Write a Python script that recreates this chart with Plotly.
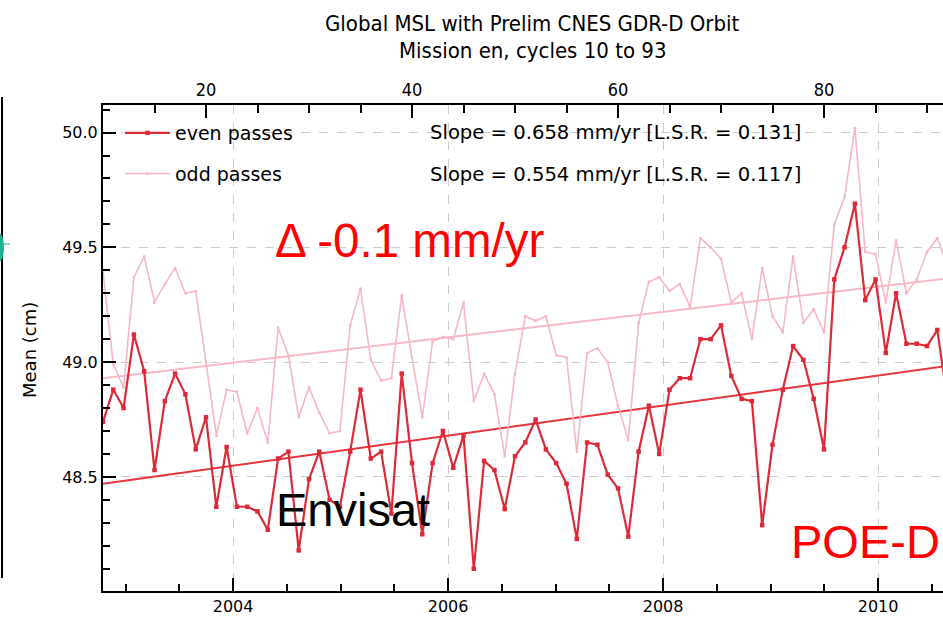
import plotly.graph_objects as go

# ---------------- data ----------------
cycles = list(range(10, 94))

even_passes = [48.74, 48.88, 48.80, 49.12, 48.96, 48.53, 48.83, 48.95, 48.86, 48.62,
               48.76, 48.37, 48.63, 48.37, 48.37, 48.35, 48.27, 48.58, 48.61, 48.18,
               48.49, 48.61, 48.40, 48.37, 48.61, 48.88, 48.58, 48.61, 48.34, 48.95,
               48.56, 48.25, 48.56, 48.70, 48.54, 48.68, 48.10, 48.57, 48.53, 48.36,
               48.59, 48.65, 48.75, 48.62, 48.56, 48.47, 48.23, 48.65, 48.64, 48.51,
               48.45, 48.24, 48.61, 48.81, 48.60, 48.88, 48.93, 48.93, 49.10, 49.10,
               49.16, 48.94, 48.84, 48.83, 48.29, 48.64, 48.88, 49.07, 49.01, 48.84,
               48.62, 49.36, 49.50, 49.69, 49.27, 49.36, 49.04, 49.30, 49.08, 49.08,
               49.07, 49.14, 48.83, 48.95]

odd_passes = [49.39, 48.99, 48.89, 49.37, 49.46, 49.26, 49.34, 49.41, 49.30, 49.31,
              49.00, 48.68, 48.88, 48.87, 48.69, 48.80, 48.65, 49.15, 49.03, 48.76,
              48.89, 48.78, 48.69, 48.70, 49.16, 49.32, 49.01, 48.92, 48.93, 49.29,
              49.02, 48.76, 49.09, 49.11, 49.10, 49.26, 48.83, 48.95, 48.86, 48.59,
              48.95, 49.20, 49.18, 49.20, 49.03, 49.02, 48.61, 49.04, 49.06, 49.00,
              48.81, 48.66, 49.17, 49.35, 49.37, 49.31, 49.34, 49.24, 49.54, 49.50,
              49.45, 49.26, 49.30, 49.10, 49.41, 49.20, 49.13, 49.46, 49.17, 49.23,
              49.13, 49.60, 49.72, 50.02, 49.48, 49.47, 49.26, 49.53, 49.30, 49.36,
              49.48, 49.54, 49.42, 49.35]

trend_cycles = [10, 93]
even_trend = [48.47, 48.99]
odd_trend = [48.93, 49.37]

year_ticks = [2004, 2006, 2008, 2010]
cycle_ticks = [20, 40, 60, 80]

even_label = "even passes"
odd_label = "odd passes"
even_slope = "Slope = 0.658 mm/yr [L.S.R. = 0.131]"
odd_slope = "Slope = 0.554 mm/yr [L.S.R. = 0.117]"

# ---------------- layout helpers (pixel geometry) ----------------
W, H = 943, 619
L, R, T, B = 103, 943, 105, 591
PW, PH = R - L, B - T


def px(x):
    return (x - L) / PW


def py(y):
    return (B - y) / PH


EVEN_C = "#dc2a38"
EVEN_T = "#e8343e"
ODD_C = "#f6b7c4"
ODD_T = "#f7b9c6"

fig = go.Figure()

# invisible helper so that the calendar (bottom) axis is drawn
fig.add_trace(go.Scatter(x=year_ticks, y=[None] * len(year_ticks), xaxis="x",
                         yaxis="y", mode="lines", showlegend=False,
                         hoverinfo="skip"))

fig.add_trace(go.Scatter(x=trend_cycles, y=even_trend, xaxis="x2", mode="lines",
                         line=dict(color=EVEN_T, width=2), showlegend=False,
                         hoverinfo="skip"))
fig.add_trace(go.Scatter(x=trend_cycles, y=odd_trend, xaxis="x2", mode="lines",
                         line=dict(color=ODD_T, width=2), showlegend=False,
                         hoverinfo="skip"))
fig.add_trace(go.Scatter(x=cycles, y=odd_passes, xaxis="x2", mode="lines+markers",
                         name=odd_label, legendgroup="b", legendrank=2,
                         line=dict(color=ODD_C, width=1.6),
                         marker=dict(symbol="square", size=2.5, color=ODD_C)))
fig.add_trace(go.Scatter(x=cycles, y=even_passes, xaxis="x2", mode="lines+markers",
                         name=even_label, legendgroup="a", legendrank=1,
                         line=dict(color=EVEN_C, width=2.2),
                         marker=dict(symbol="square", size=4.5, color=EVEN_C)))

yr0 = 2002.79
yr1 = yr0 + PW / 107.5
c1 = 10 + PW / 10.3

axis_common = dict(showline=True, linecolor="black", linewidth=2, ticks="inside",
                   tickcolor="black", tickwidth=2, ticklen=13, zeroline=False)

fig.update_layout(
    width=W, height=H,
    margin=dict(l=L, r=W - R, t=T, b=H - B),
    paper_bgcolor="white", plot_bgcolor="white",
    font=dict(family="DejaVu Sans", color="black"),
    xaxis=dict(range=[yr0, yr1], tickmode="array", tickvals=year_ticks,
               showgrid=True, gridcolor="#cccccc", griddash="dash", gridwidth=1,
               tickfont=dict(size=16, family="DejaVu Sans"),
               minor=dict(dtick=0.5, tick0=2004, ticks="inside", ticklen=7,
                          tickcolor="black", tickwidth=2, showgrid=False),
               **axis_common),
    xaxis2=dict(range=[10, c1], overlaying="x", side="top", tickmode="array",
                tickvals=cycle_ticks, showgrid=False,
                tickfont=dict(size=18, family="DejaVu Sans Condensed"),
                minor=dict(dtick=5, tick0=0, ticks="inside", ticklen=8,
                           tickcolor="black", tickwidth=2, showgrid=False),
                **axis_common),
    yaxis=dict(range=[48.003, 50.12], dtick=0.5, tick0=48.5, tickformat=".1f",
               showgrid=True, gridcolor="#cccccc", griddash="dash", gridwidth=1,
               tickfont=dict(size=16, family="DejaVu Sans"),
               minor=dict(dtick=0.1, tick0=48.0, ticks="inside", ticklen=7,
                          tickcolor="black", tickwidth=2, showgrid=False),
               **axis_common),
    legend=dict(x=px(120), y=py(114), xanchor="left", yanchor="top",
                bgcolor="rgba(0,0,0,0)", font=dict(size=19, family="DejaVu Sans"),
                tracegroupgap=13, itemwidth=45, traceorder="grouped"),
    showlegend=True,
)

ann = []
ann.append(dict(text="Global MSL with Prelim CNES GDR-D Orbit", x=px(532), y=py(24),
                font=dict(size=22, family="DejaVu Sans Condensed")))
ann.append(dict(text="Mission en, cycles 10 to 93", x=px(532), y=py(50),
                font=dict(size=22, family="DejaVu Sans Condensed")))
ann.append(dict(text=even_slope, x=px(428), y=py(133), xanchor="left",
                font=dict(size=19.6, family="DejaVu Sans")))
ann.append(dict(text=odd_slope, x=px(428), y=py(174), xanchor="left",
                font=dict(size=19.6, family="DejaVu Sans")))
ann.append(dict(text="Mean (cm)", x=px(29), y=py(350), textangle=-90,
                font=dict(size=18, family="DejaVu Sans")))
ann.append(dict(text="\u0394 -0.1 mm/yr", x=px(273), y=py(240), xanchor="left",
                font=dict(size=47.5, family="Liberation Sans", color="#ff0000")))
ann.append(dict(text="Envisat", x=px(274), y=py(509), xanchor="left",
                font=dict(size=47, family="Liberation Sans", color="black")))
ann.append(dict(text="POE-D", x=px(789), y=py(541), xanchor="left",
                font=dict(size=47, family="Liberation Sans", color="#ff0000")))
for a in ann:
    a.setdefault("xanchor", "center")
    a.update(xref="paper", yref="paper", showarrow=False, yanchor="middle")
fig.update_layout(annotations=ann)

# fragment of the neighbouring panel on the far left
fig.add_shape(type="line", xref="paper", yref="paper", x0=px(2), x1=px(2),
              y0=py(97), y1=py(578), line=dict(color="black", width=2))
fig.add_shape(type="line", xref="paper", yref="paper", x0=px(0), x1=px(10),
              y0=py(244), y1=py(244), line=dict(color="#1fb89a", width=1))
fig.add_shape(type="circle", xref="paper", yref="paper", x0=px(-6), x1=px(4),
              y0=py(233), y1=py(262), line=dict(width=0), fillcolor="#19b394")

fig.write_html("out.html", config={"displayModeBar": False},
               post_script="document.body.style.margin='0px';")
